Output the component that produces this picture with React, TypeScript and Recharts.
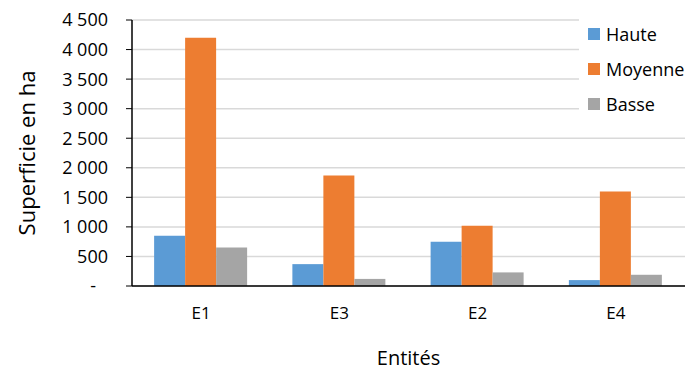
import * as React from 'react';
import { BarChart, Bar, XAxis, YAxis, CartesianGrid, Legend, Label } from 'recharts';

// Entités dans l'ordre du graphique
const entites = ['E1', 'E3', 'E2', 'E4'];
const haute = [850, 370, 750, 100];
const moyenne = [4200, 1870, 1020, 1600];
const basse = [650, 120, 230, 190];
const yTicks = [0, 500, 1000, 1500, 2000, 2500, 3000, 3500, 4000, 4500];

const series = [
  { key: 'Haute', color: '#5B9BD5' },
  { key: 'Moyenne', color: '#ED7D31' },
  { key: 'Basse', color: '#A5A5A5' },
];

const data = entites.map((name, i) => ({
  name,
  Haute: haute[i],
  Moyenne: moyenne[i],
  Basse: basse[i],
}));

const font = '"Open Sans", sans-serif';

function fmt(v: number) {
  return String(v).replace(/\B(?=(\d{3})+(?!\d))/g, ' ');
}

function YTick(props: any) {
  const { x, y, payload } = props;
  const zero = payload.value === 0;
  return (
    <text x={zero ? x - 12 : x} y={y} dy="0.355em" textAnchor="end" fill="#000" fontSize={18} fontFamily={font}>
      {zero ? '-' : fmt(payload.value)}
    </text>
  );
}

function LegendBox() {
  return (
    <div style={{ fontFamily: font, fontSize: 18, color: '#000' }}>
      {series.map((s) => (
        <div key={s.key} style={{ height: 35, display: 'flex', alignItems: 'center' }}>
          <span style={{ width: 12, height: 12, background: s.color, marginLeft: 9, marginRight: 6 }} />
          <span>{s.key}</span>
        </div>
      ))}
    </div>
  );
}

export default function App() {
  return (
    <div style={{ position: 'absolute', left: 0, top: 0, background: '#fff' }}>
      <BarChart
        width={689}
        height={372}
        data={data}
        margin={{ top: 20, right: 4, left: 0, bottom: 0 }}
        barCategoryGap="16%"
        barGap={0}
      >
        <CartesianGrid vertical={false} stroke="#D9D9D9" strokeWidth={1.5} />
        <XAxis
          dataKey="name"
          height={86}
          tickLine={false}
          tickSize={0}
          tickMargin={21}
          axisLine={{ stroke: '#000', strokeWidth: 1.5 }}
          tick={{ fill: '#000', fontSize: 17, fontFamily: font }}
        >
          <Label value="Entités" position="insideBottom" offset={7} fill="#000" fontSize={20} fontFamily={font} />
        </XAxis>
        <YAxis
          width={132}
          domain={[0, 4500]}
          ticks={yTicks}
          interval={0}
          tickSize={6}
          tickMargin={18}
          tickLine={{ stroke: '#000' }}
          axisLine={{ stroke: '#000', strokeWidth: 1.5 }}
          tick={<YTick />}
        >
          <Label value="Superficie en ha" angle={-90} position="center" dx={-39} fill="#000" fontSize={22} fontFamily={font} />
        </YAxis>
        <Legend
          layout="horizontal"
          verticalAlign="middle"
          content={<LegendBox />}
          wrapperStyle={{ top: 16, left: 579, width: 110, backgroundColor: '#fff' }}
        />
        {series.map((s) => (
          <Bar key={s.key} dataKey={s.key} fill={s.color} isAnimationActive={false} />
        ))}
      </BarChart>
    </div>
  );
}
